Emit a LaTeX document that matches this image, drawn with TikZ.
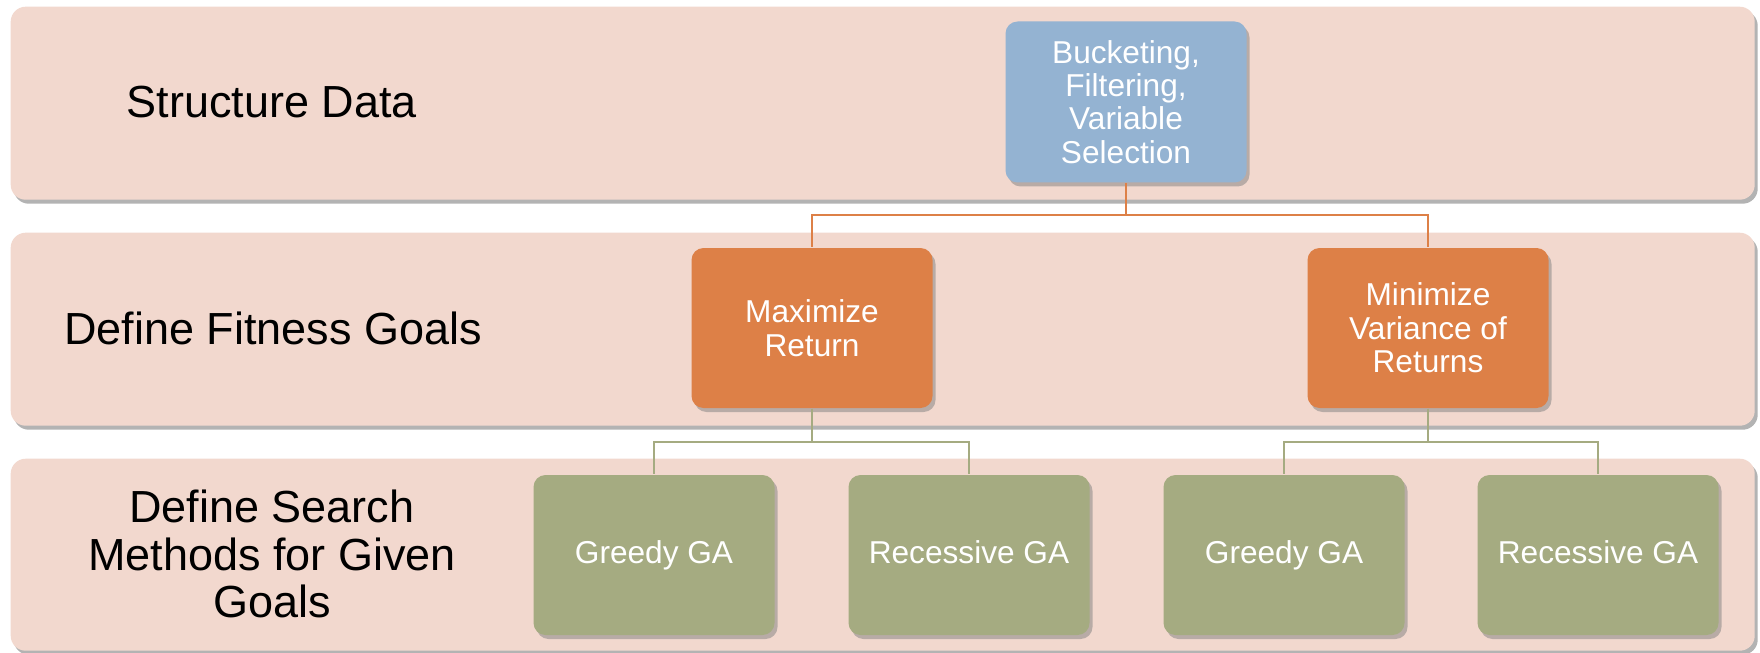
\documentclass[tikz,border=0pt]{standalone}
\usepackage{fontspec}
\setmainfont{Liberation Sans}
\usepackage{xcolor}
\usepackage{tikz}
\usetikzlibrary{shadows}
\definecolor{GABandPink}{RGB}{242,216,206}
\definecolor{GABlue}{RGB}{148,179,210}
\definecolor{GAOrange}{RGB}{221,128,71}
\definecolor{GAGreen}{RGB}{165,171,129}

\begin{document}
\begin{tikzpicture}[x=0.1mm, y=-0.1mm,
    band/.style={rectangle, rounded corners=1.5mm, fill=GABandPink, anchor=north west,
        minimum width=174.4mm, minimum height=19.3mm,
        drop shadow={shadow xshift=0.3mm, shadow yshift=-0.4mm, opacity=0.6}},
    steplabel/.style={align=center, font=\fontsize{12.8pt}{13.4pt}\selectfont},
    gabox/.style={rectangle, rounded corners=1.2mm, text=white, align=center, inner sep=0pt,
        minimum width=24.1mm, minimum height=16.0mm,
        font=\fontsize{9pt}{9.5pt}\selectfont,
        drop shadow={shadow xshift=0.3mm, shadow yshift=-0.4mm, opacity=0.5}},
    methodbox/.style={gabox, fill=GAGreen, text height=6.6pt, text depth=1.9pt},
    orangeline/.style={draw=GAOrange, line width=0.6pt},
    greenline/.style={draw=GAGreen, line width=0.6pt}]
    \useasboundingbox (0,0) rectangle (1760,652);

    \node (StructureBand) [band] at (10,6) {};
    \node (FitnessBand) [band] at (10,232) {};
    \node (SearchBand) [band, minimum height=19.2mm] at (10,458) {};

    \node (StructureLabel) [steplabel] at (272,102) {Structure Data};
    \node (FitnessLabel) [steplabel] at (273,328) {Define Fitness Goals};
    \node (SearchLabel) [steplabel] at (272,554) {Define Search\\Methods for Given\\Goals};

    \node (Bucketing) [gabox, fill=GABlue, minimum height=16.1mm] at (1126,102) {Bucketing,\\Filtering,\\Variable\\Selection};
    \node (MaxReturn) [gabox, fill=GAOrange] at (812,328) {Maximize\\Return};
    \node (MinVariance) [gabox, fill=GAOrange] at (1428,328) {Minimize\\Variance of\\Returns};
    \node (GreedyMax) [methodbox] at (654,555) {Greedy GA};
    \node (RecessiveMax) [methodbox] at (969,555) {Recessive GA};
    \node (GreedyMin) [methodbox] at (1284,555) {Greedy GA};
    \node (RecessiveMin) [methodbox] at (1598,555) {Recessive GA};

    \draw[orangeline] (Bucketing.south) -- ++(0,32) -| (MaxReturn.north);
    \draw[orangeline] (Bucketing.south) -- ++(0,32) -| (MinVariance.north);
    \draw[greenline] (MaxReturn.south) -- ++(0,33) -| (GreedyMax.north);
    \draw[greenline] (MaxReturn.south) -- ++(0,33) -| (RecessiveMax.north);
    \draw[greenline] (MinVariance.south) -- ++(0,33) -| (GreedyMin.north);
    \draw[greenline] (MinVariance.south) -- ++(0,33) -| (RecessiveMin.north);
\end{tikzpicture}
\end{document}
